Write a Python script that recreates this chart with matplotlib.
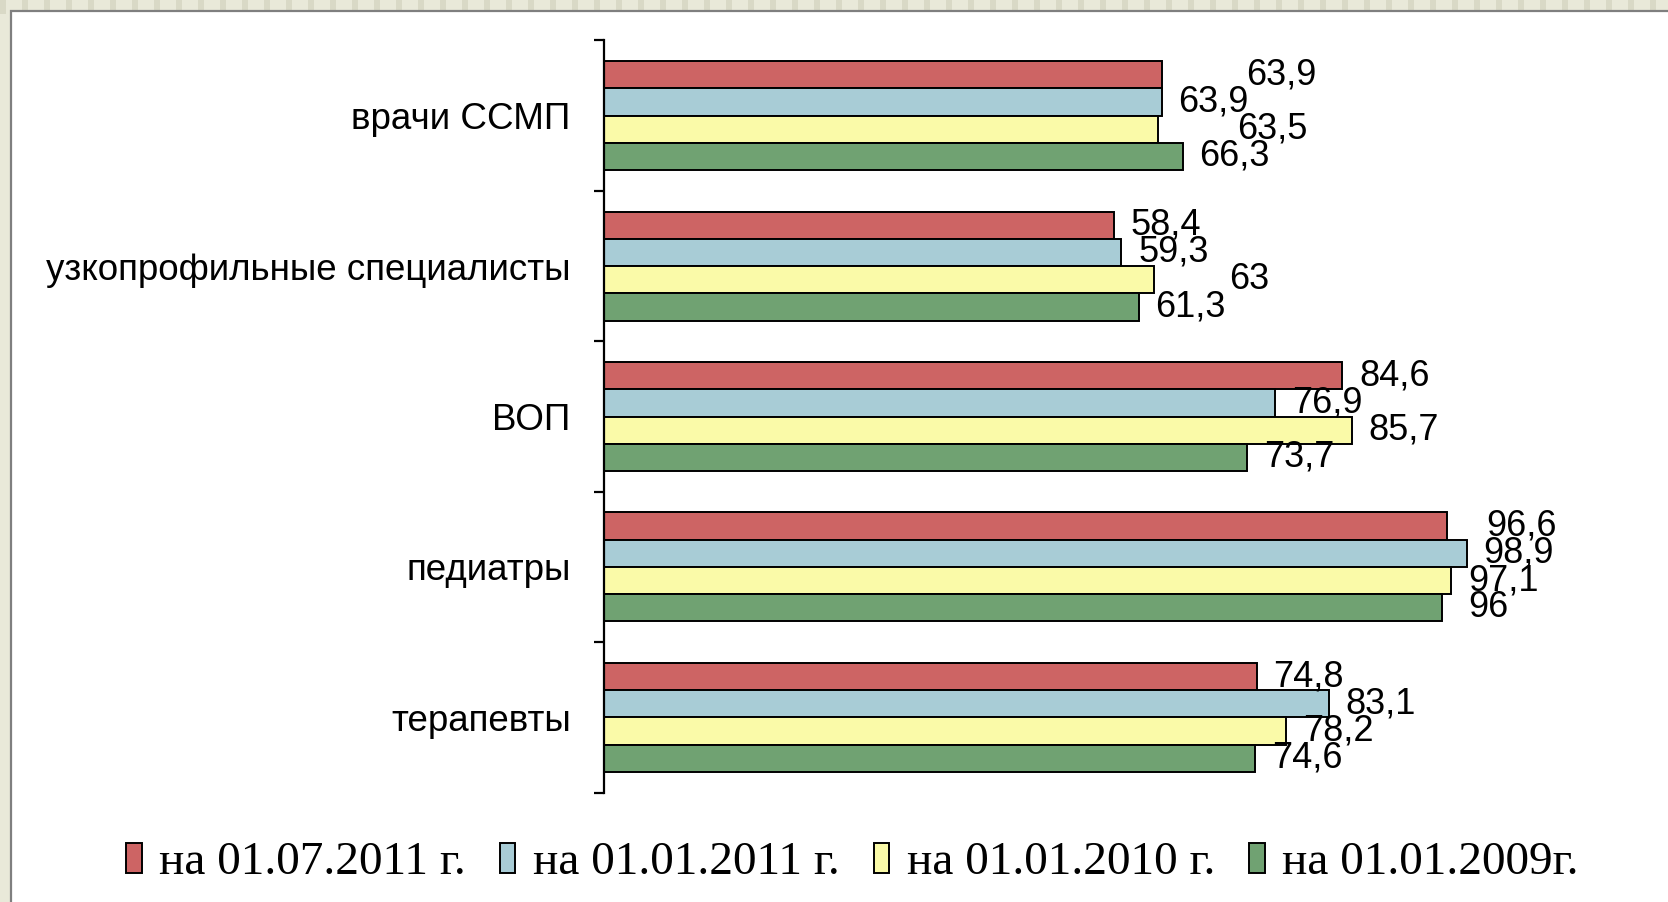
import numpy as np
import matplotlib.pyplot as plt
from matplotlib.patches import Rectangle

# categories bottom -> top, as on the chart
categories = ["терапевты", "педиатры", "ВОП", "узкопрофильные специалисты", "врачи ССМП"]
series_names = ["на 01.07.2011 г.", "на 01.01.2011 г.", "на 01.01.2010 г.", "на 01.01.2009г."]
v_2011_07 = [74.8, 96.6, 84.6, 58.4, 63.9]
v_2011_01 = [83.1, 98.9, 76.9, 59.3, 63.9]
v_2010 = [78.2, 97.1, 85.7, 63.0, 63.5]
v_2009 = [74.6, 96.0, 73.7, 61.3, 66.3]
series = [v_2011_07, v_2011_01, v_2010, v_2009]
colors = ["#CD6464", "#A8CCD6", "#FAFAA8", "#70A272"]

# label x-offsets (points), the source has a few labels pushed aside
label_dx = [
    [12, 28, 12, 12, 61],
    [12, 12, 12, 12, 12],
    [12, 12, 12, 54, 57],
    [12, 19, 12, 12, 12],
]


def main():
    fig = plt.figure(figsize=(16.68, 9.02), dpi=100)
    fig.patch.set_facecolor("#E9E9D9")
    # striped top edge of the slide background
    for x in np.arange(0, 1668, 22):
        fig.patches.append(Rectangle((x / 1668, 0.985), 6 / 1668, 0.015, zorder=-3,
                                     transform=fig.transFigure, color="#D9D9C6", lw=0))
    fig.patches.append(Rectangle((11 / 1668, -0.01), 1.02, 1 - 11 / 902 + 0.01, zorder=-2,
                                 transform=fig.transFigure, facecolor="white",
                                 edgecolor="#7F7F7F", lw=1.6))

    ax = fig.add_axes([604 / 1668, 1 - 792.6 / 902, 1 - 604 / 1668, (792.6 - 40.4) / 902])
    ax.set_facecolor("none")
    y = np.arange(len(categories))
    h = 0.181
    for j, vals in enumerate(series):
        pos = y + (1.5 - j) * h
        ax.barh(pos, vals, height=h, color=colors[j], edgecolor="black", lw=1.4,
                label=series_names[j])
        for i, v in enumerate(vals):
            txt = f"{v:g}".replace(".", ",")
            ax.annotate(txt, (v, pos[i]), xytext=(label_dx[j][i], 0), textcoords="offset points",
                        ha="left", va="center", fontsize=26, family="Liberation Sans")

    ax.set_xlim(0, 1064 / 8.726)
    ax.set_ylim(-0.5, len(categories) - 0.5)
    for s in ["top", "right", "bottom"]:
        ax.spines[s].set_visible(False)
    ax.spines["left"].set_linewidth(1.6)
    ax.set_xticks([])
    ax.set_yticks(y)
    ax.set_yticklabels(categories, fontsize=26.5, family="Liberation Sans")
    ax.tick_params(axis="y", which="major", length=0, pad=24)
    ax.set_yticks(np.arange(len(categories) + 1) - 0.5, minor=True)
    ax.tick_params(axis="y", which="minor", length=7, width=1.6, direction="out")

    fig.legend(loc="center", bbox_to_anchor=(0.511, 0.043), ncol=4, frameon=False,
               prop={"family": "Liberation Serif", "size": 34},
               handlelength=0.33, handleheight=0.62, handletextpad=0.37,
               columnspacing=0.72, borderpad=0)
    fig.savefig("out.png", dpi=100, facecolor=fig.get_facecolor())
    plt.close()


if __name__ == "__main__":
    main()
